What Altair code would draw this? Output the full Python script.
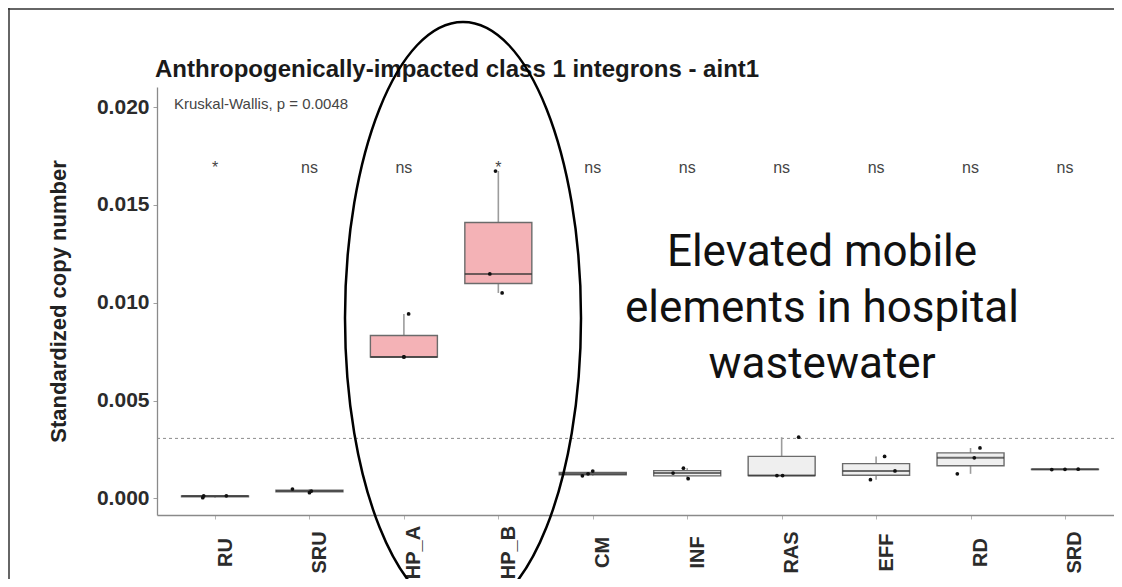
import altair as alt
import numpy as np
import pandas as pd

# ---------------- data ----------------
categories = ["RU", "SRU", "HP_A", "HP_B", "CM", "INF", "RAS", "EFF", "RD", "SRD"]
highlight = ["HP_A", "HP_B"]

ru_vals = [0.00004, 0.00013, 0.00014]
sru_vals = [0.00030, 0.00038, 0.00048]
hpa_vals = [0.00723, 0.00723, 0.00943]
hpb_vals = [0.01050, 0.01147, 0.01673]
cm_vals = [0.00116, 0.00126, 0.00140]
inf_vals = [0.00101, 0.00130, 0.00155]
ras_vals = [0.00117, 0.00117, 0.00313]
eff_vals = [0.00096, 0.00141, 0.00215]
rd_vals = [0.00126, 0.00208, 0.00258]
srd_vals = [0.00148, 0.00149, 0.00150]

# horizontal jitter of the dots, in category steps
ru_jit = [-0.13, -0.12, 0.12]
sru_jit = [0.00, 0.02, -0.18]
hpa_jit = [0.00, 0.00, 0.05]
hpb_jit = [0.04, -0.09, -0.03]
cm_jit = [-0.11, -0.05, 0.00]
inf_jit = [0.01, -0.15, -0.04]
ras_jit = [-0.05, 0.01, 0.18]
eff_jit = [-0.06, 0.20, 0.09]
rd_jit = [-0.14, 0.04, 0.10]
srd_jit = [-0.14, 0.00, 0.14]

sig_labels = ["*", "ns", "ns", "*", "ns", "ns", "ns", "ns", "ns", "ns"]
sig_label_y = 0.01690
kw_label = "Kruskal-Wallis, p = 0.0048"
kw_label_y = 0.02015
y_ticks = [0.0, 0.005, 0.010, 0.015, 0.020]
annotation = "Elevated mobile\nelements in hospital\nwastewater"
title = "Anthropogenically-impacted class 1 integrons - aint1"

all_vals = [ru_vals, sru_vals, hpa_vals, hpb_vals, cm_vals, inf_vals,
            ras_vals, eff_vals, rd_vals, srd_vals]
all_jit = [ru_jit, sru_jit, hpa_jit, hpb_jit, cm_jit, inf_jit,
           ras_jit, eff_jit, rd_jit, srd_jit]

# ---------------- tables ----------------
pts_rows, box_rows = [], []
for cat, vals, jit in zip(categories, all_vals, all_jit):
    v = np.array(vals)
    q1, med, q3 = np.percentile(v, [25, 50, 75])
    iqr = q3 - q1
    lo = v[v >= q1 - 1.5 * iqr].min()
    hi = v[v <= q3 + 1.5 * iqr].max()
    grp = "hp" if cat in highlight else "other"
    box_rows.append(dict(cat=cat, q1=q1, med=med, q3=q3, lo=lo, hi=hi, grp=grp))
    for val, j in zip(vals, jit):
        pts_rows.append(dict(cat=cat, val=val, jit=j))
box_df = pd.DataFrame(box_rows)
pts_df = pd.DataFrame(pts_rows)
sig_df = pd.DataFrame(dict(cat=categories, label=sig_labels, y=[sig_label_y] * len(categories)))
overall_mean = float(np.mean(np.concatenate([np.array(v) for v in all_vals])))
one = pd.DataFrame({"a": [0]})

FONT = "Liberation Sans"
W, H = 957, 428

xscale = alt.Scale(domain=categories, type="point", padding=0.5667, align=0.542)
xaxis = alt.Axis(title=None, labelAngle=270, labelAlign="center", labelBaseline="middle",
                 labelFontSize=20, labelFontWeight="bold", labelFont=FONT, labelColor="#2b2b2b",
                 labelPadding=33, labelOffset=10, tickSize=4, tickColor="#b5b5b5",
                 domainColor="#8a8a8a", domainWidth=1.3, grid=False)
yscale = alt.Scale(domain=[-0.000843, 0.021022], nice=False, zero=False)
yaxis = alt.Axis(values=y_ticks, format=".3f", title="Standardized copy number",
                 labelFontSize=21, labelFontWeight="bold", labelFont=FONT, labelColor="#2b2b2b",
                 labelPadding=4, tickSize=4, tickColor="#a0a0a0",
                 titleFontSize=22, titleFontWeight="bold", titleFont=FONT, titleColor="#222222",
                 titlePadding=26, domainColor="#8a8a8a", domainWidth=1.3, grid=False)

X = alt.X("cat:N", scale=xscale, sort=categories, axis=xaxis)

def Y(field):
    return alt.Y(field, type="quantitative", scale=yscale, axis=yaxis)

whisk_up = alt.Chart(box_df).mark_rule(color="#9c9c9c", strokeWidth=1.6).encode(
    x=X, y=Y("q3"), y2="hi")
whisk_lo = alt.Chart(box_df).mark_rule(color="#9c9c9c", strokeWidth=1.6).encode(
    x=X, y=Y("lo"), y2="q1")
boxes = alt.Chart(box_df).mark_bar(size=67, stroke="#6b6b6b", strokeWidth=1.4).encode(
    x=X, y=Y("q1"), y2="q3",
    color=alt.Color("grp:N", scale=alt.Scale(domain=["hp", "other"], range=["#f4b2b6", "#efefef"]),
                    legend=None))
medians = alt.Chart(box_df).mark_tick(size=67, thickness=2, color="#333333").encode(
    x=X, y=Y("med"))
points = alt.Chart(pts_df).mark_circle(size=14, color="#111111", opacity=1).encode(
    x=X, y=Y("val"),
    xOffset=alt.XOffset("jit:Q", scale=alt.Scale(domain=[-0.5, 0.5], range=[-47.2, 47.2])))
hline = alt.Chart(one).mark_rule(color="#8c8c8c", strokeDash=[3, 3], strokeWidth=1).encode(
    y=alt.datum(overall_mean))
sig = alt.Chart(sig_df).mark_text(fontSize=16, font=FONT, color="#454545", baseline="middle").encode(
    x=X, y=Y("y"), text="label:N")
kw = alt.Chart(one).mark_text(fontSize=15, font=FONT, color="#454545", align="left",
                              baseline="middle").encode(
    x=alt.value(17), y=alt.datum(kw_label_y), text=alt.value(kw_label))
title_mark = alt.Chart(one).mark_text(fontSize=24, font=FONT, fontWeight="bold", color="#1a1a1a",
                                      align="left", baseline="alphabetic").encode(
    x=alt.value(-2), y=alt.value(-10), text=alt.value(title))
note = alt.Chart(one).mark_text(fontSize=44, font="Roboto", color="#111111", align="center",
                                baseline="alphabetic", lineBreak="\n", lineHeight=56).encode(
    x=alt.value(665), y=alt.value(179), text=alt.value(annotation))

a, b, k = 1.18, 2.96, 0.5523
ell_path = (f"M 0 {-b} C {k*a:.4f} {-b} {a} {-k*b:.4f} {a} 0 "
            f"C {a} {k*b:.4f} {k*a:.4f} {b} 0 {b} "
            f"C {-k*a:.4f} {b} {-a} {k*b:.4f} {-a} 0 "
            f"C {-a} {-k*b:.4f} {-k*a:.4f} {-b} 0 {-b} Z")
ellipse = alt.Chart(one).mark_point(shape=ell_path, size=40000, filled=False, stroke="black",
                                    strokeWidth=2.5, opacity=1).encode(
    x=alt.value(306), y=alt.value(231))

frame_top = alt.Chart(one).mark_rule(color="#333333", strokeWidth=1.5).encode(
    x=alt.value(-149), x2=alt.value(960), y=alt.value(-78))
frame_left = alt.Chart(one).mark_rule(color="#333333", strokeWidth=1.5).encode(
    x=alt.value(-148), y=alt.value(-80), y2=alt.value(520))

chart = alt.layer(
    hline, whisk_up, whisk_lo, boxes, medians, points, sig, kw, title_mark, note, ellipse,
    frame_top, frame_left
).resolve_scale(x="shared", y="shared").properties(
    width=W, height=H,
    autosize=alt.AutoSizeParams(type="none"),
    padding={"left": 149, "top": 79, "right": 0, "bottom": 64},
    background="white",
).configure_view(stroke=None)

chart.save("out.html", embed_options={"renderer": "svg", "actions": False})
